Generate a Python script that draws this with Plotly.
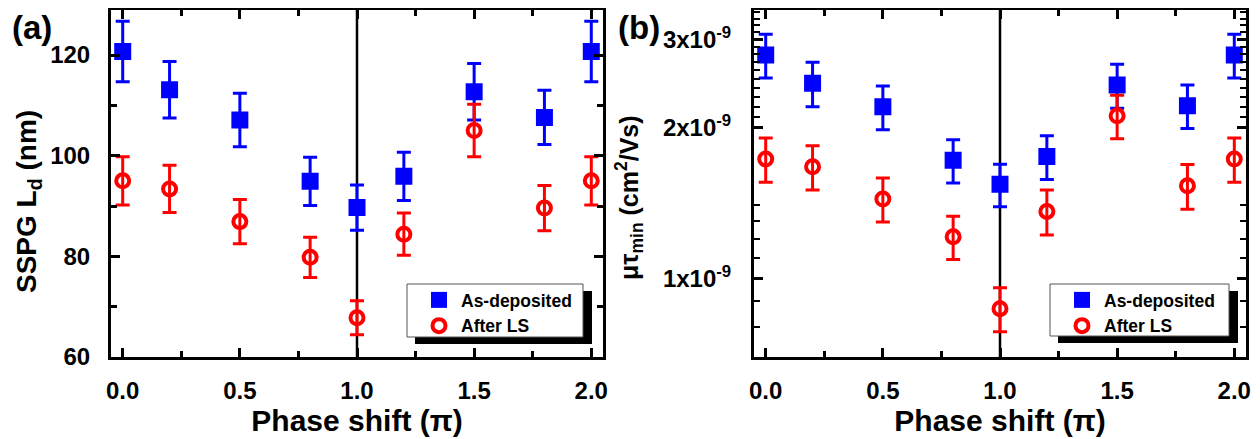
import plotly.graph_objects as go

# ---------------- data ----------------
phase = [0.0, 0.2, 0.5, 0.8, 1.0, 1.2, 1.5, 1.8, 2.0]

ld_as = [120.7, 113.1, 107.1, 94.9, 89.7, 95.9, 112.7, 107.6, 120.7]
ld_as_err = [6.0, 5.6, 5.3, 4.8, 4.5, 4.8, 5.6, 5.4, 6.0]
ld_ls = [95.0, 93.4, 86.9, 79.8, 67.8, 84.4, 105.0, 89.6, 95.0]
ld_ls_err = [4.8, 4.7, 4.4, 4.0, 3.4, 4.2, 5.2, 4.5, 4.8]

mt_as = [2.79e-9, 2.45e-9, 2.20e-9, 1.72e-9, 1.54e-9, 1.75e-9, 2.43e-9, 2.21e-9, 2.79e-9]
mt_as_err = [0.28e-9, 0.25e-9, 0.22e-9, 0.17e-9, 0.15e-9, 0.175e-9, 0.245e-9, 0.22e-9, 0.28e-9]
mt_ls = [1.73e-9, 1.67e-9, 1.44e-9, 1.21e-9, 0.87e-9, 1.36e-9, 2.11e-9, 1.53e-9, 1.73e-9]
mt_ls_err = [0.175e-9, 0.17e-9, 0.145e-9, 0.12e-9, 0.088e-9, 0.14e-9, 0.21e-9, 0.157e-9, 0.175e-9]

x_ticks = [0.0, 0.5, 1.0, 1.5, 2.0]
ld_ticks = [60, 80, 100, 120]
mt_ticks = [1e-9, 2e-9, 3e-9]
mt_ticktext = ["1x10<sup>-9</sup>", "2x10<sup>-9</sup>", "3x10<sup>-9</sup>"]
mt_minor = [v * 1e-10 for v in [8, 9, 11, 12, 13, 14,
                                21, 22, 23, 24, 25, 26, 27, 28, 29, 31, 32, 33, 34]]
phase_mark = 1.0

names = ["As-deposited", "After LS"]
x_title = "Phase shift (π)"
ld_title = "SSPG L<sub>d</sub> (nm)"
mt_title = "μτ<sub>min</sub> (cm<sup>2</sup>/Vs)"

# ---------------- style ----------------
FONT = "Liberation Sans, Arial, sans-serif"
BLUE = "#0000ff"
RED = "#ff0000"
# the page body has an 8px margin, so the figure is sized to the visible area
W, H = 1252, 431

fig = go.Figure()

def add_pair(xa, ya, y_as, e_as, y_ls, e_ls, legend):
    fig.add_trace(go.Scatter(
        x=phase, y=y_as, mode="markers", name=names[0], xaxis=xa, yaxis=ya,
        legend=legend,
        marker=dict(symbol="square", size=17, color=BLUE, line=dict(width=0)),
        error_y=dict(type="data", array=e_as, visible=True, color=BLUE,
                     thickness=3, width=7)))
    fig.add_trace(go.Scatter(
        x=phase, y=y_ls, mode="markers", name=names[1], xaxis=xa, yaxis=ya,
        legend=legend,
        marker=dict(symbol="circle-open", size=13, color=RED,
                    line=dict(width=4, color=RED)),
        error_y=dict(type="data", array=e_ls, visible=True, color=RED,
                     thickness=3, width=7)))

add_pair("x", "y", ld_as, ld_as_err, ld_ls, ld_ls_err, "legend")
add_pair("x2", "y2", mt_as, mt_as_err, mt_ls, mt_ls_err, "legend2")

# plot area geometry (pixels in figure coordinates)
L1, R1 = 103, 595
L2, R2 = 746, 1238
TOP, BOT = 1.5, 349
dom_y = [1 - BOT / H, 1 - TOP / H]

def tfont(size):
    return dict(family=FONT, size=size, color="black", weight="bold")

axis_common = dict(
    showline=True, linewidth=3, linecolor="black", mirror="allticks",
    ticks="inside", ticklen=9, tickwidth=3, tickcolor="black",
    showgrid=False, zeroline=False, automargin=False,
)
xtitle = dict(text=x_title, standoff=8, font=tfont(30))
minor_x = dict(dtick=0.25, tick0=0, ticks="inside", ticklen=6, tickwidth=3,
               tickcolor="black")

fig.update_layout(
    width=W, height=H,
    margin=dict(l=0, r=0, t=0, b=0),
    paper_bgcolor="white", plot_bgcolor="white",
    xaxis=dict(domain=[L1 / W, R1 / W], range=[-0.05, 2.05], tickvals=x_ticks,
               tickformat=".1f", ticklabelstandoff=10, title=xtitle,
               tickfont=tfont(24), minor=minor_x, **axis_common),
    yaxis=dict(domain=dom_y, range=[60, 129.05], tickvals=ld_ticks,
               ticklabelstandoff=13, tickfont=tfont(24),
               minor=dict(dtick=10, tick0=0, ticks="inside", ticklen=6,
                          tickwidth=3, tickcolor="black"),
               **axis_common),
    xaxis2=dict(domain=[L2 / W, R2 / W], range=[-0.05, 2.05], tickvals=x_ticks,
                tickformat=".1f", ticklabelstandoff=10, title=xtitle, anchor="y2",
                tickfont=tfont(24), minor=minor_x, **axis_common),
    yaxis2=dict(domain=dom_y, type="log", range=[-9.157, -8.4635], anchor="x2",
                tickvals=mt_ticks, ticktext=mt_ticktext, ticklabelstandoff=15,
                tickfont=tfont(24),
                minor=dict(tickvals=mt_minor, ticks="inside", ticklen=6,
                           tickwidth=2, tickcolor="black"),
                **axis_common),
    showlegend=True,
)

# rotated y titles, placed like the original (slightly below axis centre)
for txt, xc, yc, fs in [(ld_title, 20, 194, 28), (mt_title, 621, 190, 25)]:
    fig.add_annotation(text=txt, xref="paper", yref="paper", x=xc / W, y=1 - yc / H,
                       xanchor="center", yanchor="middle", textangle=-90,
                       showarrow=False, font=tfont(fs))

# legend boxes (box + drop shadow drawn as shapes, entries from the legend)
for key, (bx0, bx1, by0, by1) in [("legend", (399, 575, 276, 329)),
                                   ("legend2", (1042, 1221, 276, 328))]:
    fig.add_shape(type="rect", xref="paper", yref="paper",
                  x0=(bx0 + 8) / W, x1=(bx1 + 9) / W,
                  y0=1 - (by1 + 7) / H, y1=1 - (by0 + 7) / H,
                  fillcolor="black", line=dict(width=0), layer="above")
    fig.add_shape(type="rect", xref="paper", yref="paper",
                  x0=bx0 / W, x1=bx1 / W, y0=1 - by1 / H, y1=1 - by0 / H,
                  fillcolor="white", line=dict(width=1, color="#555555"),
                  layer="above")
    fig.update_layout({key: dict(
        x=bx0 / W, y=1 - (by0 - 2) / H, xanchor="left", yanchor="top",
        bgcolor="rgba(0,0,0,0)", borderwidth=0,
        indentation=10, itemwidth=34, tracegroupgap=0,
        font=tfont(17.5))})

# vertical reference lines at phase = pi
for xr, yr in [("x", "y domain"), ("x2", "y2 domain")]:
    fig.add_shape(type="line", xref=xr, yref=yr, x0=phase_mark, x1=phase_mark,
                  y0=0, y1=1, line=dict(color="black", width=2.5), layer="below")

# panel labels
for txt, xp in [("(a)", 3), ("(b)", 609)]:
    fig.add_annotation(text=txt, xref="paper", yref="paper", x=xp / W, y=1,
                       xanchor="left", yanchor="top", showarrow=False,
                       borderpad=0, font=tfont(33))

fig.write_html("out.html")
